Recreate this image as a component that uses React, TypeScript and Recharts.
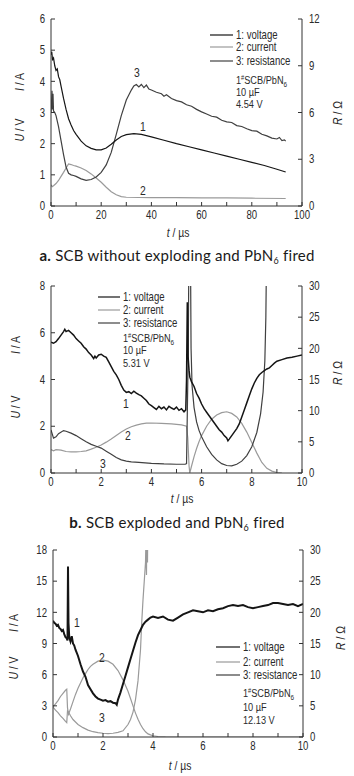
import React from 'react';
import { LineChart, Line, XAxis, YAxis } from 'recharts';

const FONT = '"Liberation Sans", Arial, sans-serif';
const CAPTION_FONT = 'Lato, "Open Sans", sans-serif';
const SX = 0.8;

const COL_VOLT = '#151515';
const COL_CURR = '#9a9a9a';
const COL_RES = '#404040';
const AXIS = '#333';
const TXT = '#2a2a2a';

// ---------- Panel a : SCB without exploding ----------
const A_X_TICKS = [0, 10, 20, 30, 40, 50, 60, 70, 80, 90, 100];
const A_LEFT_TICKS = [0, 1, 2, 3, 4, 5, 6];
const A_RIGHT_TICKS = [0, 3, 6, 9, 12];

const A_VOLT_T = [0, 0.3, 0.6, 1, 1.5, 2, 2.5, 3, 3.5, 4, 5, 6, 7, 8, 9, 10, 12, 14, 16, 18, 20, 22, 24, 26, 28, 30, 33, 36, 40, 45, 50, 55, 60, 65, 70, 75, 80, 85, 90, 93.5];
const A_VOLT = [4.85, 4.95, 4.7, 4.75, 4.5, 4.35, 4.4, 4.15, 4.05, 3.85, 3.45, 3.1, 2.8, 2.6, 2.42, 2.3, 2.08, 1.93, 1.85, 1.8, 1.8, 1.86, 1.98, 2.12, 2.23, 2.29, 2.32, 2.3, 2.22, 2.11, 2.0, 1.9, 1.8, 1.7, 1.6, 1.5, 1.4, 1.3, 1.18, 1.09];

const A_CURR_T = [0, 0.5, 1, 2, 3, 4, 5, 6, 7, 8, 9, 10, 12, 14, 16, 18, 20, 22, 24, 26, 28, 30, 40, 50, 60, 70, 80, 93.5];
const A_CURR = [0.68, 0.62, 0.65, 0.72, 0.82, 0.95, 1.08, 1.22, 1.35, 1.33, 1.3, 1.28, 1.22, 1.14, 1.03, 0.9, 0.76, 0.6, 0.46, 0.36, 0.3, 0.28, 0.27, 0.27, 0.26, 0.26, 0.25, 0.24];

const A_RES_T = [0, 0.2, 0.4, 0.6, 0.8, 1, 1.5, 2, 3, 4, 5, 6, 7, 8, 9, 10, 12, 14, 16, 18, 20, 22, 24, 26, 28, 30, 32, 33, 34, 35, 36, 37, 38, 39, 40, 42, 44, 45, 46, 48, 50, 52, 54, 56, 58, 60, 62, 64, 66, 68, 70, 72, 74, 76, 78, 80, 82, 84, 86, 88, 90, 91, 92, 93, 93.5];
const A_RES = [6.0, 6.6, 7.4, 6.2, 7.2, 6.1, 6.0, 5.8, 5.1, 4.2, 3.3, 2.5, 2.1, 2.0, 1.96, 1.9, 1.74, 1.64, 1.7, 1.86, 2.16, 2.64, 3.44, 4.6, 5.8, 6.8, 7.44, 7.7, 7.8, 7.64, 7.8, 7.6, 7.76, 7.5, 7.44, 7.3, 7.2, 7.04, 7.14, 6.9, 6.76, 6.68, 6.5, 6.4, 6.2, 6.04, 5.9, 5.76, 5.7, 5.5, 5.4, 5.36, 5.16, 5.1, 4.96, 4.84, 4.8, 4.6, 4.5, 4.36, 4.3, 4.4, 4.2, 4.24, 4.16];

// ---------- Panel b : SCB exploded ----------
const B_X_TICKS = [0, 1, 2, 3, 4, 5, 6, 7, 8, 9, 10];
const B_LEFT_TICKS = [0, 2, 4, 6, 8];
const B_RIGHT_TICKS = [0, 5, 10, 15, 20, 25, 30];

const B_VOLT_T = [0, 0.1, 0.2, 0.3, 0.4, 0.5, 0.55, 0.6, 0.7, 0.8, 0.9, 1.0, 1.1, 1.2, 1.3, 1.4, 1.5, 1.6, 1.7, 1.75, 1.8, 1.9, 2.0, 2.1, 2.2, 2.3, 2.4, 2.5, 2.6, 2.7, 2.8, 2.9, 3.0, 3.1, 3.2, 3.3, 3.4, 3.5, 3.6, 3.7, 3.8, 3.9, 4.0, 4.1, 4.2, 4.3, 4.4, 4.5, 4.6, 4.7, 4.8, 4.9, 5.0, 5.1, 5.2, 5.3, 5.37, 5.4, 5.43, 5.46, 5.5, 5.53, 5.6, 5.7, 5.8, 5.9, 6.0, 6.1, 6.2, 6.3, 6.4, 6.5, 6.6, 6.7, 6.8, 6.9, 7.0, 7.05, 7.1, 7.2, 7.3, 7.4, 7.5, 7.6, 7.7, 7.8, 7.9, 8.0, 8.1, 8.2, 8.3, 8.4, 8.5, 8.6, 8.7, 8.8, 8.9, 9.0, 9.2, 9.4, 9.6, 9.8, 10];
const B_VOLT = [5.6, 5.55, 5.62, 5.75, 5.9, 6.05, 6.15, 6.05, 6.1, 6.0, 5.9, 5.75, 5.65, 5.55, 5.4, 5.3, 5.15, 5.05, 4.9, 5.0, 4.92, 5.05, 5.08, 5.0, 4.95, 4.75, 4.55, 4.35, 4.2, 4.0, 3.75, 3.55, 3.45, 3.48, 3.4, 3.5, 3.42, 3.35, 3.3, 3.2, 3.1, 2.95, 2.88, 2.8, 2.72, 2.85, 2.75, 2.82, 2.7, 2.85, 2.78, 2.72, 2.82, 2.68, 2.75, 2.62, 2.7, 4.0, 7.3, 5.0, 4.4, 4.1, 3.9, 3.7, 3.4, 3.2, 2.95, 2.75, 2.6, 2.45, 2.3, 2.15, 2.0, 1.85, 1.75, 1.6, 1.5, 1.38, 1.45, 1.6, 1.75, 1.9, 2.1, 2.4, 2.7, 3.0, 3.3, 3.6, 3.85, 4.05, 4.2, 4.3, 4.38, 4.45, 4.5, 4.6, 4.7, 4.78, 4.85, 4.92, 4.95, 5.0, 5.05];

const B_CURR_T = [0, 0.1, 0.2, 0.4, 0.6, 0.8, 1.0, 1.2, 1.4, 1.6, 1.8, 2.0, 2.2, 2.4, 2.6, 2.8, 3.0, 3.2, 3.4, 3.6, 3.8, 4.0, 4.4, 4.8, 5.2, 5.4, 5.45, 5.5, 5.53, 5.6, 5.7, 5.8, 5.9, 6.0, 6.2, 6.4, 6.6, 6.8, 7.0, 7.2, 7.4, 7.6, 7.8, 8.0, 8.2, 8.4, 8.6, 8.8, 9.0, 9.2];
const B_CURR = [1.0, 0.95, 1.0, 0.98, 0.92, 0.9, 0.9, 0.92, 0.95, 1.02, 1.1, 1.2, 1.32, 1.45, 1.6, 1.75, 1.88, 1.98, 2.05, 2.1, 2.13, 2.14, 2.12, 2.1, 2.06, 2.0, 1.5, 0.3, 0.0, 0.3, 0.7, 1.05, 1.35, 1.6, 2.0, 2.3, 2.48, 2.58, 2.62, 2.55, 2.4, 2.12, 1.75, 1.3, 0.85, 0.45, 0.2, 0.08, 0.02, 0.0];

const B_RES_T = [0, 0.1, 0.2, 0.3, 0.5, 0.6, 0.8, 1.0, 1.2, 1.4, 1.6, 1.8, 2.0, 2.2, 2.4, 2.6, 2.8, 3.0, 3.2, 3.5, 4.0, 4.5, 5.0, 5.35, 5.4, 5.47, 5.5, 5.55, 5.58, 5.62, 5.7, 5.8, 5.9, 6.0, 6.2, 6.4, 6.6, 6.8, 7.0, 7.2, 7.4, 7.6, 7.8, 8.0, 8.2, 8.35, 8.45, 8.52, 8.56, 8.6];
const B_RES = [6.9, 5.6, 5.8, 6.3, 6.8, 6.7, 6.4, 6.0, 5.5, 5.0, 4.6, 4.3, 4.0, 3.5, 3.0, 2.5, 2.1, 1.9, 1.8, 1.7, 1.55, 1.45, 1.4, 1.4, 1.5, 20, 40, 40, 20, 14, 10.5, 8.2, 6.8, 5.8, 4.2, 3.0, 2.1, 1.5, 1.2, 1.15, 1.4, 1.9, 2.8, 4.2, 6.5, 9.5, 13, 18, 25, 40];

// ---------- Panel c : higher voltage ----------
const C_LEFT_TICKS = [0, 3, 6, 9, 12, 15, 18];

const C_VOLT_T = [0, 0.05, 0.1, 0.15, 0.2, 0.25, 0.3, 0.35, 0.4, 0.45, 0.5, 0.55, 0.58, 0.6, 0.62, 0.65, 0.7, 0.75, 0.8, 0.85, 0.9, 1.0, 1.1, 1.2, 1.3, 1.4, 1.5, 1.6, 1.7, 1.8, 1.9, 2.0, 2.1, 2.2, 2.3, 2.4, 2.5, 2.55, 2.6, 2.7, 2.8, 2.9, 3.0, 3.1, 3.2, 3.3, 3.4, 3.5, 3.6, 3.7, 3.8, 3.9, 4.0, 4.2, 4.4, 4.6, 4.8, 5.0, 5.2, 5.4, 5.6, 5.8, 6.0, 6.2, 6.4, 6.6, 6.8, 7.0, 7.2, 7.4, 7.6, 7.8, 8.0, 8.2, 8.4, 8.6, 8.8, 9.0, 9.2, 9.4, 9.6, 9.8, 10];
const C_VOLT = [11.2, 11.0, 10.9, 10.7, 10.8, 10.5, 10.4, 10.2, 10.3, 9.9, 9.6, 9.5, 9.3, 16.4, 11, 9.6, 9.2, 9.7, 9.0, 8.8, 8.4, 7.8, 7.0, 6.3, 5.8, 5.0, 4.6, 4.2, 3.9, 3.7, 3.6, 3.5, 3.55, 3.4, 3.45, 3.3, 3.25, 3.1, 3.6, 4.3, 5.1, 5.9, 6.7, 7.5, 8.3, 9.1, 9.8, 10.3, 10.8, 11.1, 11.3, 11.5, 11.6, 11.45, 11.6, 11.3, 11.2, 11.5, 11.8, 12.0, 12.2, 12.1, 12.0, 12.2, 12.1, 12.3, 12.4, 12.6, 12.7, 12.6, 12.7, 12.5, 12.4, 12.5, 12.6, 12.7, 12.9, 12.9, 12.8, 12.7, 12.8, 12.6, 12.8];

const C_CURR_T = [0, 0.1, 0.2, 0.3, 0.4, 0.5, 0.55, 0.58, 0.62, 0.7, 0.8, 0.9, 1.0, 1.1, 1.2, 1.3, 1.4, 1.5, 1.6, 1.8, 2.0, 2.2, 2.4, 2.6, 2.8, 3.0, 3.1, 3.2, 3.3, 3.4, 3.5, 3.6, 3.7, 3.8, 3.9, 4.0, 4.2, 4.5, 5, 10];
const C_CURR = [2.9, 3.2, 3.5, 3.9, 4.2, 4.5, 4.6, 2.8, 2.2, 2.7, 3.4, 4.1, 4.7, 5.2, 5.7, 6.1, 6.5, 6.8, 7.0, 7.3, 7.4, 7.3, 7.0, 6.4, 5.5, 4.4, 3.7, 3.0, 2.3, 1.7, 1.2, 0.8, 0.5, 0.3, 0.2, 0.12, 0.05, 0.02, 0.0, 0.0];

const C_RES_T = [0, 0.1, 0.2, 0.3, 0.4, 0.5, 0.55, 0.58, 0.62, 0.7, 0.8, 0.9, 1.0, 1.2, 1.4, 1.6, 1.8, 2.0, 2.2, 2.4, 2.6, 2.8, 3.0, 3.1, 3.2, 3.3, 3.4, 3.5, 3.55, 3.6, 3.65, 3.7, 3.72, 3.74, 3.76, 3.78, 3.8];
const C_RES = [4.8, 4.3, 3.9, 3.4, 3.0, 2.5, 2.3, 4.2, 4.0, 3.4, 2.8, 2.4, 2.0, 1.5, 1.1, 0.85, 0.7, 0.6, 0.55, 0.6, 0.75, 1.0, 2.0, 2.8, 4.0, 6.0, 9.0, 14, 18.5, 22, 25, 28, 32, 26, 40, 28, 40];

const zip = (t: number[], v: number[]) => t.map((x, i) => ({ t: x, v: v[i] }));

type Series = { data: { t: number; v: number }[]; axis: 'left' | 'right'; color: string; width?: number };

type PanelProps = {
  top: number;
  height: number;
  marginTop: number;
  leftW: number;
  rightW: number;
  xDomain: [number, number];
  xTicks: number[];
  xLabelStep: number;
  leftDomain: [number, number];
  leftTicks: number[];
  rightDomain: [number, number];
  rightTicks: number[];
  series: Series[];
  children?: React.ReactNode;
};

// narrow text: Liberation Sans squeezed horizontally
function NText({ x, y, anchor = 'start', size = 12, rotate = 0, children }: { x: number; y: number; anchor?: 'start' | 'middle' | 'end'; size?: number; rotate?: number; children: React.ReactNode }) {
  return (
    <text
      x={0}
      y={0}
      transform={`translate(${x},${y}) rotate(${rotate}) scale(${SX},1)`}
      textAnchor={anchor}
      dy="0.35em"
      fontSize={size}
      fontFamily={FONT}
      fill={TXT}
    >
      {children}
    </text>
  );
}

const makeTick = (anchor: 'start' | 'middle' | 'end', vertical: boolean, fmt?: (v: number) => string) =>
  function Tick(props: any) {
    const { x, y, payload } = props;
    const s = fmt ? fmt(payload.value) : String(payload.value);
    if (!s) return <g />;
    return (
      <NText x={x} y={vertical ? y + 6 : y} anchor={anchor} size={12}>
        {s}
      </NText>
    );
  };

function Panel(p: PanelProps) {
  const xFmt = (v: number) => (Math.abs(v / p.xLabelStep - Math.round(v / p.xLabelStep)) < 1e-6 ? String(v) : '');
  return (
    <div style={{ position: 'absolute', left: 0, top: p.top, width: 354, height: p.height }}>
      <LineChart width={354} height={p.height} margin={{ top: p.marginTop, right: 0, left: 0, bottom: p.height - p.marginTop - 187 - 30 }}>
        <XAxis
          xAxisId="bottom"
          dataKey="t"
          type="number"
          domain={p.xDomain}
          ticks={p.xTicks}
          allowDataOverflow
          height={30}
          tickSize={-4}
          tickMargin={7}
          tick={makeTick('middle', true, xFmt)}
          stroke={AXIS}
          interval={0}
        />
        <XAxis
          xAxisId="top"
          orientation="top"
          dataKey="t"
          type="number"
          domain={p.xDomain}
          ticks={p.xTicks}
          allowDataOverflow
          height={0}
          tickSize={-4}
          tick={false}
          stroke={AXIS}
          interval={0}
        />
        <YAxis
          yAxisId="left"
          type="number"
          domain={p.leftDomain}
          ticks={p.leftTicks}
          allowDataOverflow
          width={p.leftW}
          tickSize={-4}
          tickMargin={10}
          tick={makeTick('end', false)}
          stroke={AXIS}
          interval={0}
        />
        <YAxis
          yAxisId="right"
          orientation="right"
          type="number"
          domain={p.rightDomain}
          ticks={p.rightTicks}
          allowDataOverflow
          width={p.rightW}
          tickSize={-4}
          tickMargin={11}
          tick={makeTick('start', false)}
          stroke={AXIS}
          interval={0}
        />
        {p.series.map((s, i) => (
          <Line
            key={i}
            data={s.data}
            dataKey="v"
            xAxisId="bottom"
            yAxisId={s.axis}
            type="linear"
            stroke={s.color}
            strokeWidth={s.width ?? 1.2}
            dot={false}
            activeDot={false}
            isAnimationActive={false}
          />
        ))}
      </LineChart>
      <svg width={354} height={p.height} style={{ position: 'absolute', left: 0, top: 0, pointerEvents: 'none' }}>
        {p.children}
      </svg>
    </div>
  );
}

function VLabel({ x, y, v, u }: { x: number; y: number; v: string; u: string }) {
  return (
    <NText x={x} y={y} anchor="middle" size={13} rotate={-90}>
      <tspan fontStyle="italic">{v}</tspan>
      <tspan> / {u}</tspan>
    </NText>
  );
}

function TLabel({ x, y }: { x: number; y: number }) {
  return (
    <NText x={x} y={y} anchor="middle" size={13}>
      <tspan fontStyle="italic">t</tspan>
      <tspan> / µs</tspan>
    </NText>
  );
}

function Legend({ x1, x2, tx, ys, info, infoYs }: { x1: number; x2: number; tx: number; ys: number[]; info: string; infoYs: number[] }) {
  const items = [
    { label: '1: voltage', color: COL_VOLT },
    { label: '2: current', color: COL_CURR },
    { label: '3: resistance', color: COL_RES },
  ];
  return (
    <g>
      {items.map((it, i) => (
        <g key={i}>
          <line x1={x1} x2={x2} y1={ys[i]} y2={ys[i]} stroke={it.color} strokeWidth={1.2} />
          <NText x={tx} y={ys[i]}>{it.label}</NText>
        </g>
      ))}
      <NText x={tx} y={infoYs[0]} size={11.5}>
        1<tspan fontSize={7} dy={-4}>#</tspan>
        <tspan dy={4}>SCB/PbN</tspan>
        <tspan fontSize={8} dy={3}>6</tspan>
      </NText>
      <NText x={tx} y={infoYs[1]} size={11.5}>10 µF</NText>
      <NText x={tx} y={infoYs[2]} size={11.5}>{info}</NText>
    </g>
  );
}

function CurveLabels({ pts }: { pts: [string, number, number][] }) {
  return (
    <g>
      {pts.map(([s, x, y]) => (
        <NText key={s} x={x} y={y} anchor="middle" size={13}>{s}</NText>
      ))}
    </g>
  );
}

function Caption({ top, letter, text }: { top: number; letter: string; text: string }) {
  return (
    <div
      style={{
        position: 'absolute',
        left: 0,
        top,
        width: 354,
        textAlign: 'center',
        fontFamily: CAPTION_FONT,
        fontSize: 15,
        letterSpacing: '0.25px',
        color: '#1a1a1a',
        lineHeight: '18px',
        whiteSpace: 'nowrap',
      }}
    >
      <b>{letter}</b> {text}
      <sub style={{ fontSize: 9, verticalAlign: '-3px' }}>6</sub> fired
    </div>
  );
}

export default function App() {
  return (
    <div style={{ position: 'absolute', left: 0, top: 0, width: 354, height: 776, background: '#fff', overflow: 'hidden' }}>
      <Panel
        top={0}
        height={245}
        marginTop={19}
        leftW={51}
        rightW={52}
        xDomain={[0, 100]}
        xTicks={A_X_TICKS}
        xLabelStep={20}
        leftDomain={[0, 6]}
        leftTicks={A_LEFT_TICKS}
        rightDomain={[0, 12]}
        rightTicks={A_RIGHT_TICKS}
        series={[
          { data: zip(A_CURR_T, A_CURR), axis: 'left', color: COL_CURR },
          { data: zip(A_RES_T, A_RES), axis: 'right', color: COL_RES },
          { data: zip(A_VOLT_T, A_VOLT), axis: 'left', color: COL_VOLT },
        ]}
      >
        <VLabel x={19} y={130} v="U" u="V" />
        <VLabel x={19} y={82} v="I" u="A" />
        <VLabel x={337} y={113} v="R" u="Ω" />
        <TLabel x={178} y={232} />
        <Legend x1={210} x2={233} tx={236} ys={[35, 47, 61]} info="4.54 V" infoYs={[80, 92, 104]} />
        <CurveLabels pts={[['3', 137, 72], ['1', 143, 126], ['2', 143, 190]]} />
      </Panel>
      <Caption top={246} letter="a." text="SCB without exploding and PbN" />
      <Panel
        top={270}
        height={240}
        marginTop={16}
        leftW={51}
        rightW={52}
        xDomain={[0, 10]}
        xTicks={B_X_TICKS}
        xLabelStep={2}
        leftDomain={[0, 8]}
        leftTicks={B_LEFT_TICKS}
        rightDomain={[0, 30]}
        rightTicks={B_RIGHT_TICKS}
        series={[
          { data: zip(B_CURR_T, B_CURR), axis: 'left', color: COL_CURR },
          { data: zip(B_RES_T, B_RES), axis: 'right', color: COL_RES },
          { data: zip(B_VOLT_T, B_VOLT), axis: 'left', color: COL_VOLT, width: 1.5 },
        ]}
      >
        <VLabel x={15} y={137} v="U" u="V" />
        <VLabel x={15} y={75} v="I" u="A" />
        <VLabel x={337} y={103} v="R" u="Ω" />
        <TLabel x={182} y={228} />
        <Legend x1={98} x2={120} tx={123} ys={[27, 40, 53]} info="5.31 V" infoYs={[68, 80, 93]} />
        <CurveLabels pts={[['1', 126, 133], ['2', 128, 165], ['3', 103, 193]]} />
      </Panel>
      <Caption top={513} letter="b." text="SCB exploded and PbN" />
      <Panel
        top={535}
        height={241}
        marginTop={15}
        leftW={53}
        rightW={51}
        xDomain={[0, 10]}
        xTicks={B_X_TICKS}
        xLabelStep={2}
        leftDomain={[0, 18]}
        leftTicks={C_LEFT_TICKS}
        rightDomain={[0, 30]}
        rightTicks={B_RIGHT_TICKS}
        series={[
          { data: zip(C_CURR_T, C_CURR), axis: 'left', color: COL_CURR },
          { data: zip(C_RES_T, C_RES), axis: 'right', color: COL_CURR },
          { data: zip(C_VOLT_T, C_VOLT), axis: 'left', color: COL_VOLT, width: 2 },
        ]}
      >
        <VLabel x={13} y={133} v="U" u="V" />
        <VLabel x={13} y={88} v="I" u="A" />
        <VLabel x={340} y={103} v="R" u="Ω" />
        <TLabel x={180} y={230} />
        <Legend x1={216} x2={240} tx={243} ys={[112, 127, 140]} info="12.13 V" infoYs={[158, 172, 185]} />
        <CurveLabels pts={[['1', 77, 87], ['2', 102, 122], ['3', 102, 182]]} />
      </Panel>
    </div>
  );
}
